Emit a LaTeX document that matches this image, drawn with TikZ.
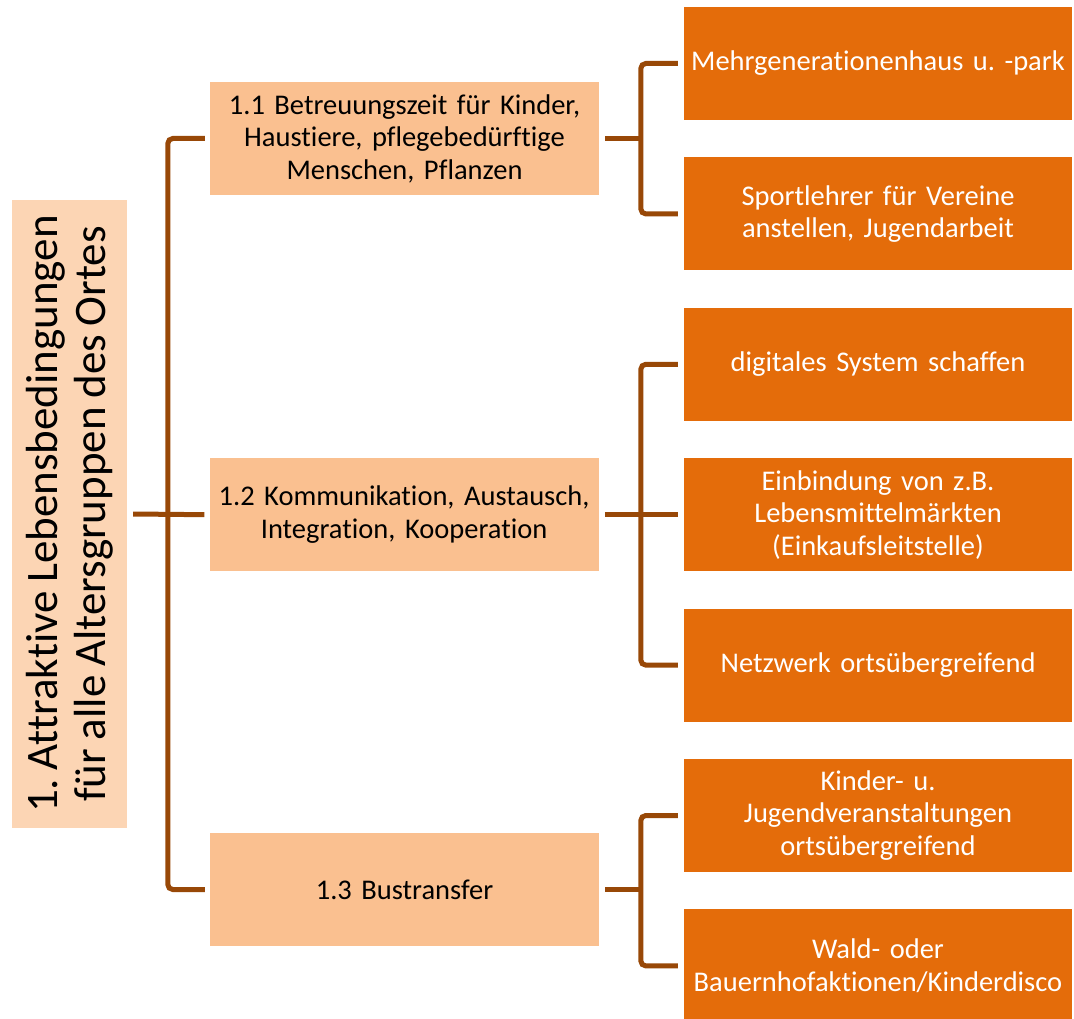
\documentclass[tikz,border=0pt]{standalone}
\usepackage{fontspec}
\setmainfont{Carlito}[Ligatures=NoCommon,WordSpace=0.85]
\usetikzlibrary{positioning}
\frenchspacing

\definecolor{rootfill}{HTML}{FCD5B4}
\definecolor{topicfill}{HTML}{FAC090}
\definecolor{leaffill}{HTML}{E46C0A}
\definecolor{linkcolor}{HTML}{984807}

\begin{document}
\begin{tikzpicture}[x=1pt,y=1pt,
					node distance=37pt,
					root node/.style={fill=rootfill,rotate=90,align=center,
						minimum width=628pt,minimum height=115pt,inner sep=0pt,
						font=\fontsize{45}{48}\selectfont},
					topic node/.style={fill=topicfill,align=center,
						text width=381pt,inner sep=4pt,minimum height=113pt,
						font=\fontsize{28.5}{32.5}\selectfont},
					leaf node/.style={fill=leaffill,text=white,align=center,
						text width=384pt,inner sep=2pt,minimum height=113pt,
						font=\fontsize{28.5}{32.5}\selectfont},
					link/.style={draw=linkcolor,line width=5pt,rounded corners=5pt}]
  \useasboundingbox (0,0) rectangle (1074,-1019);

  % leaves, right column
  \node[leaf node] (m1) at (878,-63.5) {Mehrgenerationenhaus u. -park};
  \node[leaf node] (m2) [below=of m1] {Sportlehrer für Vereine\\anstellen, Jugendarbeit};
  \node[leaf node] (m3) [below=of m2] {digitales System schaffen};
  \node[leaf node] (m4) [below=of m3] {Einbindung von z.B.\\Lebensmittelmärkten\\(Einkaufsleitstelle)};
  \node[leaf node] (m5) [below=of m4] {Netzwerk ortsübergreifend};
  \node[leaf node] (m6) [below=of m5] {Kinder- u.\\Jugendveranstaltungen\\ortsübergreifend};
  \node[leaf node] (m7) [below=of m6] {Wald- oder\\Bauernhofaktionen/Kinderdisco};

  % middle column
  \node[topic node] (t1) at (404.5,-138.5) {1.1 Betreuungszeit für Kinder,\\Haustiere, pflegebedürftige\\Menschen, Pflanzen};
  \node[topic node] (t2) [left=85pt of m4] {1.2 Kommunikation, Austausch,\\Integration, Kooperation};
  \node[topic node] (t3) at (404.5,-889.5) {1.3 Bustransfer};

  % root
  \node[root node] (root) at (69.5,-514) {1. Attraktive Lebensbedingungen\\für alle Altersgruppen des Ortes};

  % connectors
  \path[link]
    ([xshift=6pt]root.south) edge ([xshift=-5pt]t2.west);
  \draw[link] ([xshift=-5pt]t1.west) -- ++(-37,0) |- ([xshift=-5pt]t3.west);

  \draw[link] ([xshift=6pt]t1.east) -- ++(36,0);
  \draw[link] ([xshift=-6pt]m1.west) -- ++(-37,0) |- ([xshift=-6pt]m2.west);

  \path[link]
    ([xshift=6pt]t2.east) edge ([xshift=-6pt]m4.west);
  \draw[link] ([xshift=-6pt]m3.west) -- ++(-37,0) |- ([xshift=-6pt]m5.west);

  \draw[link] ([xshift=6pt]t3.east) -- ++(36,0);
  \draw[link] ([xshift=-6pt]m6.west) -- ++(-37,0) |- ([xshift=-6pt]m7.west);
\end{tikzpicture}
\end{document}
